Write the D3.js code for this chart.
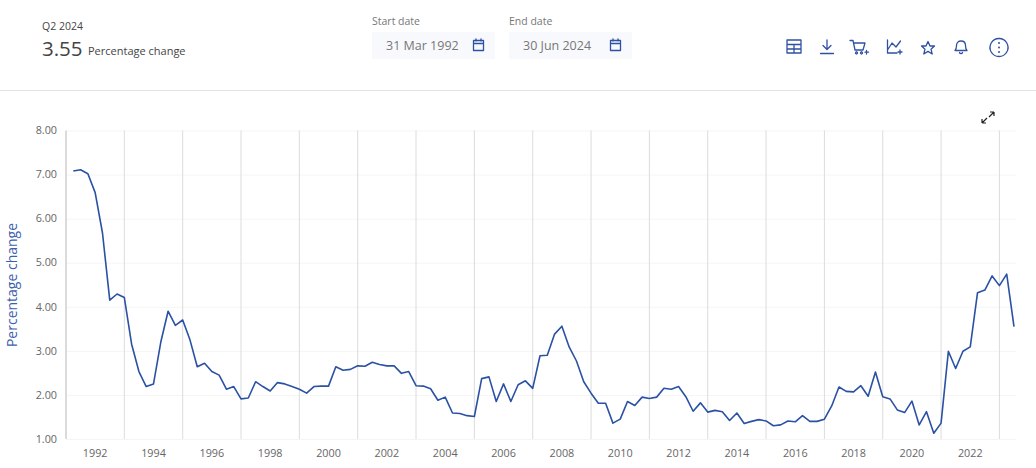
<!DOCTYPE html>
<meta charset="utf-8">

<style type='text/css'>
  body { margin: 0; background: #fff; }
  svg { display: block; font-family: "Open Sans", sans-serif; }
  .tick text { fill: #666; font-size: 10.8px; font-family: "Open Sans", sans-serif; }
  .icon { fill: none; stroke: #2f51a3; stroke-width: 1.3; stroke-linejoin: round; stroke-linecap: round; }
</style>

<body>
<div id="chart"></div>
<script src="https://d3js.org/d3.v7.min.js"></script>
<script>

// quarterly values, Q1 1992 to Q2 2024
var values = [
  7.08, 7.11, 7.02, 6.59, 5.68, 4.15, 4.29, 4.21, 3.15, 2.53,
  2.19, 2.25, 3.20, 3.90, 3.58, 3.70, 3.25, 2.64, 2.72, 2.53,
  2.45, 2.13, 2.19, 1.91, 1.93, 2.30, 2.19, 2.09, 2.28, 2.25,
  2.19, 2.13, 2.04, 2.19, 2.20, 2.20, 2.64, 2.56, 2.58, 2.66,
  2.65, 2.74, 2.69, 2.66, 2.66, 2.49, 2.53, 2.21, 2.20, 2.14,
  1.88, 1.95, 1.59, 1.58, 1.53, 1.51, 2.37, 2.41, 1.85, 2.25,
  1.85, 2.23, 2.32, 2.15, 2.89, 2.90, 3.38, 3.56, 3.09, 2.77,
  2.30, 2.04, 1.81, 1.81, 1.36, 1.45, 1.85, 1.76, 1.95, 1.92,
  1.95, 2.15, 2.13, 2.19, 1.96, 1.63, 1.82, 1.61, 1.65, 1.62,
  1.42, 1.59, 1.35, 1.40, 1.44, 1.41, 1.30, 1.32, 1.41, 1.39,
  1.53, 1.40, 1.40, 1.45, 1.75, 2.18, 2.08, 2.07, 2.21, 1.97,
  2.52, 1.96, 1.91, 1.66, 1.60, 1.86, 1.32, 1.62, 1.13, 1.36,
  2.99, 2.60, 2.99, 3.09, 4.32, 4.38, 4.70, 4.48, 4.74, 3.55
];
var yearLabels = ["1992", "1994", "1996", "1998", "2000", "2002", "2004", "2006", "2008",
  "2010", "2012", "2014", "2016", "2018", "2020", "2022"];
var yTicks = [1, 2, 3, 4, 5, 6, 7, 8];

var width = 1036,
    height = 468;

var svg = d3.select("#chart").append("svg")
    .attr("width", width)
    .attr("height", height);

// x runs on the quarter index, the axis sits one quarter before the first point
var x = d3.scaleLinear()
    .domain([-1, 129])
    .range([66, 1014]);

var y = d3.scaleLinear()
    .domain([1, 8])
    .range([439, 130.5]);

var gridIndex = yearLabels.map(function(d, i) { return 7 + i * 8; });
var labelIndex = yearLabels.map(function(d, i) { return 3 + i * 8; });

// horizontal grid and y labels
var yAxis = svg.append("g")
    .attr("transform", "translate(66,0)")
    .call(d3.axisLeft(y).tickValues(yTicks).tickFormat(d3.format(".2f")).tickSize(0).tickPadding(9));
yAxis.select(".domain").remove();
yAxis.selectAll(".tick line")
    .attr("x2", 950)
    .attr("stroke", "#f5f5f5");
yAxis.selectAll(".tick text")
    .attr("dy", "0.3em");

// vertical grid
svg.append("g")
  .selectAll("line")
    .data(gridIndex)
  .enter().append("line")
    .attr("x1", x)
    .attr("x2", x)
    .attr("y1", y(8))
    .attr("y2", y(1))
    .attr("stroke", "#dcdcdc");

svg.append("line")
    .attr("x1", x(-1))
    .attr("x2", x(-1))
    .attr("y1", y(8))
    .attr("y2", y(1))
    .attr("stroke", "#cfcfcf")
    .attr("stroke-width", 1.5);

// x labels
var xAxis = svg.append("g")
    .attr("transform", "translate(-0.5,439)")
    .call(d3.axisBottom(x)
      .tickValues(labelIndex)
      .tickFormat(function(d, i) { return yearLabels[i]; })
      .tickSize(0)
      .tickPadding(10));
xAxis.select(".domain").remove();

var line = d3.line()
    .x(function(d, i) { return x(i); })
    .y(function(d) { return y(d); });

svg.append("path")
    .datum(values)
    .attr("d", line)
    .attr("fill", "none")
    .attr("stroke", "#2a51a3")
    .attr("stroke-width", 1.6)
    .attr("stroke-linejoin", "round");

svg.append("text")
    .attr("transform", "translate(17,285) rotate(-90)")
    .attr("text-anchor", "middle")
    .attr("fill", "#3d5fae")
    .attr("font-size", 14)
    .text("Percentage change");

// header
svg.append("line")
    .attr("x1", 0).attr("x2", width)
    .attr("y1", 90.5).attr("y2", 90.5)
    .attr("stroke", "#e3e3e3");

svg.append("text").attr("x", 42).attr("y", 30)
    .attr("fill", "#444").attr("font-size", 10.5).text("Q2 2024");
svg.append("text").attr("x", 42).attr("y", 56)
    .attr("fill", "#444").attr("font-size", 20.5).text("3.55");
svg.append("text").attr("x", 88).attr("y", 55)
    .attr("fill", "#444").attr("font-size", 11).text("Percentage change");

// date boxes
var dateBoxes = [
  {x: 372, w: 123, label: "Start date", text: "31 Mar 1992", icon: 473},
  {x: 509, w: 123, label: "End date", text: "30 Jun 2024", icon: 610}
];

var box = svg.append("g").selectAll("g")
    .data(dateBoxes)
  .enter().append("g");

box.append("rect")
    .attr("x", function(d) { return d.x; })
    .attr("y", 32)
    .attr("width", function(d) { return d.w; })
    .attr("height", 27)
    .attr("fill", "#f7f9fc");
box.append("text")
    .attr("x", function(d) { return d.x; })
    .attr("y", 25)
    .attr("fill", "#777")
    .attr("font-size", 10.5)
    .text(function(d) { return d.label; });
box.append("text")
    .attr("x", function(d) { return d.x + 14; })
    .attr("y", 50)
    .attr("fill", "#777")
    .attr("font-size", 12.5)
    .text(function(d) { return d.text; });
box.append("path")
    .attr("class", "icon")
    .attr("transform", function(d) { return "translate(" + d.icon + ",39)"; })
    .attr("d", "M0.5 1.5H10.5V11.5H0.5ZM0.5 4.5H10.5M3 0V2M8 0V2");

// toolbar icons
var icons = [
  {x: 787, y: 40, d: "M0 0H14V13H0ZM0 4.5H14M0 9H14M7 4.5V13"},
  {x: 820, y: 40, d: "M7 0V9M3 5.5L7 9.5L11 5.5M0.5 13.5H13.5"},
  {x: 850, y: 40, d: "M0 0.5H3L5 10H13L15 3H3.5M6.5 12a1 1 0 1 0 0.01 0M11.5 12a1 1 0 1 0 0.01 0M16.5 10.5V14M15 12.2H18.5"},
  {x: 887, y: 40, d: "M0.5 0V13H10M0.5 10L5 3L9 7L13.5 1M13 10V14M11 12H15"},
  {x: 921, y: 41, d: "M7 0.5L9 5H13.5L10 8.2L11.2 13L7 10.4L2.8 13L4 8.2L0.5 5H5Z"},
  {x: 954, y: 40, d: "M1 10.5C2.5 9 2.5 7.5 2.5 5.5C2.5 2.5 4.5 1 7 1C9.5 1 11.5 2.5 11.5 5.5C11.5 7.5 11.5 9 13 10.5ZM5.5 12.5C6 14 8 14 8.5 12.5"},
  {x: 990, y: 38, d: "M9 0.5a9 9 0 1 0 0.01 0"}
];

svg.append("g").selectAll("path")
    .data(icons)
  .enter().append("path")
    .attr("class", "icon")
    .attr("transform", function(d) { return "translate(" + d.x + "," + d.y + ")"; })
    .attr("d", function(d) { return d.d; });

svg.append("g").selectAll("circle")
    .data([43, 47.5, 52])
  .enter().append("circle")
    .attr("cx", 999)
    .attr("cy", function(d) { return d; })
    .attr("r", 1)
    .attr("fill", "#2f51a3");

// expand icon
svg.append("path")
    .attr("d", "M982 123L987 118M982 123V119M982 123H986M994 112L989 117M994 112V116M994 112H990")
    .attr("fill", "none")
    .attr("stroke", "#222")
    .attr("stroke-width", 1.2);

</script>
</body>
